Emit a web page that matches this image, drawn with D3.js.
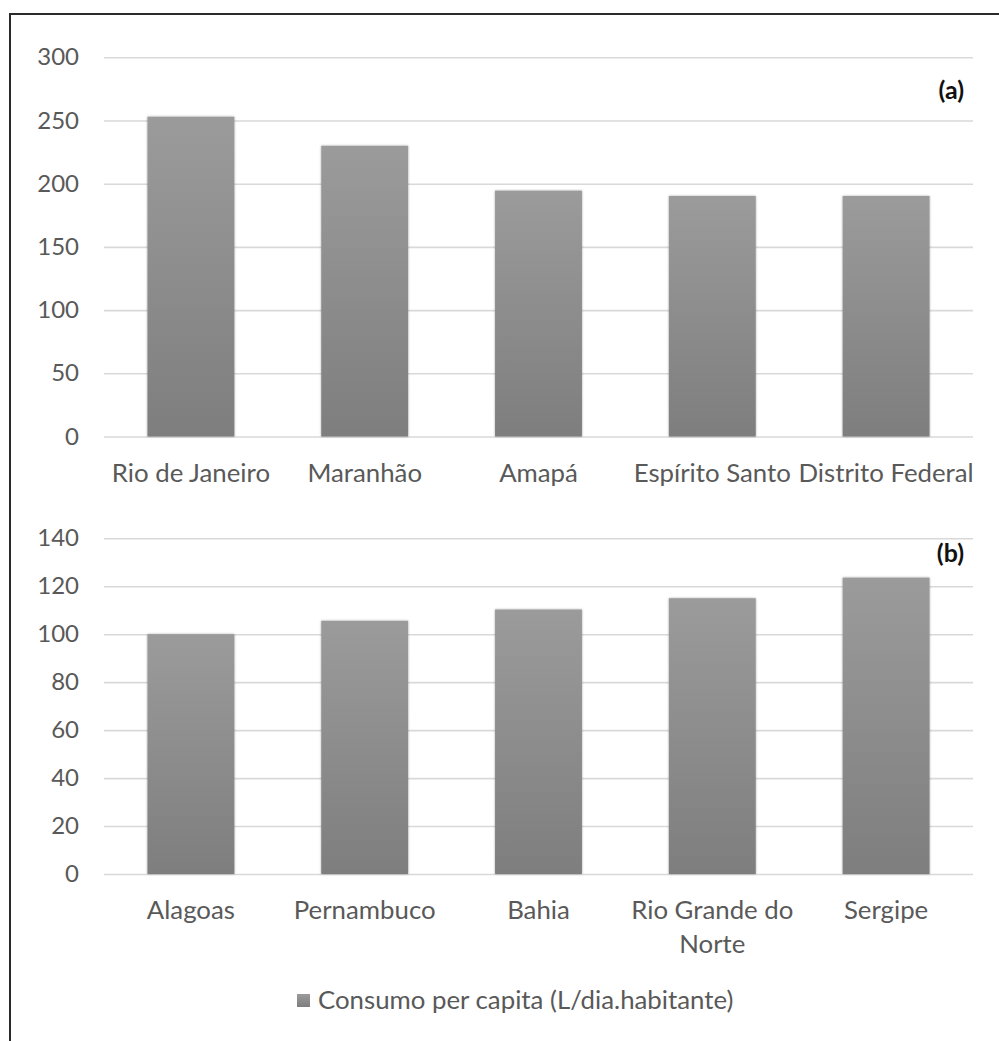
<!DOCTYPE html>
<html>
<head>
<meta charset="utf-8">
<script src="https://cdn.jsdelivr.net/npm/d3@7"></script>
<style>
  html, body { margin: 0; padding: 0; background: #fff; }
  svg { display: block; }
  text { font-family: Lato, "Open Sans", sans-serif; }
</style>
</head>
<body>
<svg id="chart" width="999" height="1041"></svg>
<script>
// Panel (a): states with the highest per-capita water consumption
const statesA = ["Rio de Janeiro", "Maranhão", "Amapá", "Espírito Santo", "Distrito Federal"];
const valuesA = [253, 230, 194.5, 190.3, 190.3];
const ticksA = [0, 50, 100, 150, 200, 250, 300];

// Panel (b): states with the lowest per-capita water consumption
const statesB = ["Alagoas", "Pernambuco", "Bahia", "Rio Grande do Norte", "Sergipe"];
const valuesB = [100, 105.6, 110.3, 115, 123.6];
const ticksB = [0, 20, 40, 60, 80, 100, 120, 140];

const legendLabel = "Consumo per capita (L/dia.habitante)";

const svg = d3.select("#chart");
const W = 999, H = 1041;

// Vertical bar gradient and soft shadow
const defs = svg.append("defs");
const grad = defs.append("linearGradient")
  .attr("id", "barGrad").attr("x1", 0).attr("y1", 0).attr("x2", 0).attr("y2", 1);
grad.append("stop").attr("offset", "0%").attr("stop-color", "#9b9b9b");
grad.append("stop").attr("offset", "100%").attr("stop-color", "#7e7e7e");
const shadow = defs.append("filter").attr("id", "barShadow")
  .attr("x", "-10%").attr("y", "-10%").attr("width", "120%").attr("height", "120%");
shadow.append("feDropShadow").attr("dx", 0).attr("dy", 0)
  .attr("stdDeviation", 1.3).attr("flood-color", "#000").attr("flood-opacity", 0.35);

// Frame lines (top and left)
svg.append("line").attr("x1", 9).attr("x2", W).attr("y1", 14).attr("y2", 14)
  .attr("stroke", "#2b2b2b").attr("stroke-width", 2);
svg.append("line").attr("x1", 10).attr("x2", 10).attr("y1", 13).attr("y2", H)
  .attr("stroke", "#2b2b2b").attr("stroke-width", 2);

const plotLeft = 104, plotRight = 973;

function wrapLabel(textSel, width) {
  textSel.each(function () {
    const t = d3.select(this);
    const words = t.text().split(/\s+/);
    const x = t.attr("x");
    t.text(null);
    let line = [];
    let tspan = t.append("tspan").attr("x", x).attr("dy", 0);
    words.forEach(w => {
      line.push(w);
      tspan.text(line.join(" "));
      if (tspan.node().getComputedTextLength() > width && line.length > 1) {
        line.pop();
        tspan.text(line.join(" "));
        line = [w];
        tspan = t.append("tspan").attr("x", x).attr("dy", 34).text(w);
      }
    });
  });
}

function panel(cfg) {
  const x = d3.scaleBand().domain(cfg.cats).range([plotLeft, plotRight]).paddingInner(0.5).paddingOuter(0.25);
  const y = d3.scaleLinear().domain([0, cfg.max]).range([cfg.y0, cfg.yTop]);
  const g = svg.append("g");

  // Gridlines and value ticks
  const yAxis = d3.axisLeft(y).tickValues(cfg.ticks).tickSize(-(plotRight - plotLeft)).tickPadding(25);
  const ga = g.append("g").attr("transform", `translate(${plotLeft},0)`).call(yAxis);
  ga.select(".domain").remove();
  ga.selectAll(".tick line").attr("stroke", "#d9d9d9").attr("stroke-width", 1.6);
  ga.selectAll(".tick text").attr("fill", "#595959").attr("font-size", 24);

  // Bars
  g.selectAll("rect.bar").data(cfg.cats).join("rect")
    .attr("class", "bar")
    .attr("x", d => x(d))
    .attr("width", x.bandwidth())
    .attr("y", (d, i) => y(cfg.vals[i]))
    .attr("height", (d, i) => y(0) - y(cfg.vals[i]))
    .attr("fill", "url(#barGrad)")
    .attr("filter", "url(#barShadow)");

  // Category labels
  const lab = g.selectAll("text.cat").data(cfg.cats).join("text")
    .attr("class", "cat")
    .attr("x", d => x(d) + x.bandwidth() / 2)
    .attr("y", cfg.labelY)
    .attr("text-anchor", "middle")
    .attr("fill", "#595959")
    .attr("font-size", cfg.labelSize)
    .text(d => d);
  if (cfg.wrap) wrapLabel(lab, x.step());

  // Panel tag
  g.append("text").attr("x", 964).attr("y", cfg.tagY)
    .attr("text-anchor", "end").attr("font-weight", "bold")
    .attr("font-size", 25).attr("fill", "#111").text(cfg.tag);
}

panel({ cats: statesA, vals: valuesA, ticks: ticksA, max: 300, y0: 436.5, yTop: 57.3,
        labelY: 482, labelSize: 25.8, tag: "(a)", tagY: 99, wrap: false });
panel({ cats: statesB, vals: valuesB, ticks: ticksB, max: 140, y0: 874, yTop: 538.3,
        labelY: 919, labelSize: 25.8, tag: "(b)", tagY: 562, wrap: true });

// Legend
const lg = svg.append("g");
lg.append("rect").attr("x", 297).attr("y", 994).attr("width", 13).attr("height", 13)
  .attr("fill", "url(#barGrad)");
lg.append("text").attr("x", 318).attr("y", 1009).attr("fill", "#595959")
  .attr("font-size", 25.8).text(legendLabel);
</script>
</body>
</html>
